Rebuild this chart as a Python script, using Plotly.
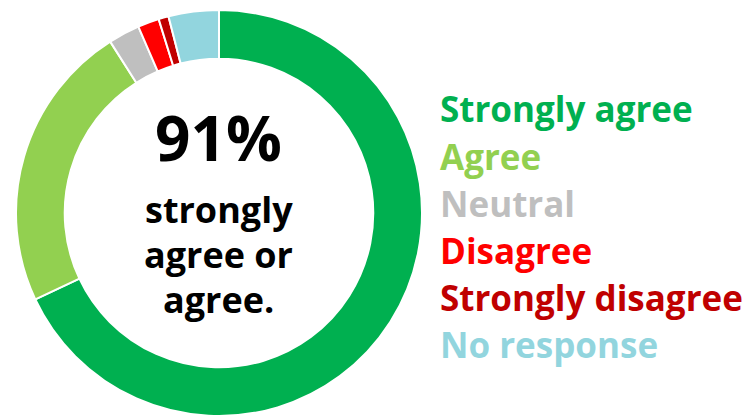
import plotly.graph_objects as go

categories = ["Strongly agree", "Agree", "Neutral", "Disagree", "Strongly disagree", "No response"]
values = [68.0, 23.0, 2.5, 1.7, 0.8, 4.0]
colors = ["#00B050", "#92D050", "#BFBFBF", "#FF0000", "#C00000", "#92D5DE"]
center_big = "91%"
center_lines = ["strongly", "agree or", "agree."]

W, H = 751, 415
FONT = "Open Sans"
CX, CY, R = 211, 205, 203  # pixel positions inside the figure

fig = go.Figure()
fig.add_trace(go.Pie(
    labels=categories, values=values, hole=0.76, sort=False,
    direction="clockwise", rotation=0,
    marker=dict(colors=colors, line=dict(color="white", width=2)),
    textinfo="none", hoverinfo="label+value", showlegend=False,
    domain=dict(x=[(CX - R) / W, (CX + R) / W], y=[1 - (CY + R) / H, 1 - (CY - R) / H]),
))

annotations = []
annotations.append(dict(text=center_big, x=CX / W, y=1 - 129 / H, xref="paper", yref="paper",
                        showarrow=False, font=dict(family=FONT, size=62, color="black", weight="bold"),
                        xanchor="center", yanchor="middle"))
for i, line in enumerate(center_lines):
    annotations.append(dict(text=line, x=CX / W, y=1 - (201 + 45 * i) / H, xref="paper", yref="paper",
                            showarrow=False, font=dict(family=FONT, size=36, color="black", weight="bold"),
                            xanchor="center", yanchor="middle"))
y0, dy = 101, 47
for i, (c, col) in enumerate(zip(categories, colors)):
    annotations.append(dict(text=c, x=430 / W, y=1 - (y0 + dy * i) / H, xref="paper", yref="paper",
                            showarrow=False, font=dict(family=FONT, size=35, color=col, weight="bold"),
                            xanchor="left", yanchor="middle"))

fig.update_layout(
    width=W, height=H, margin=dict(l=0, r=0, t=0, b=0),
    paper_bgcolor="white", plot_bgcolor="white",
    annotations=annotations,
)
fig.write_html("out.html")
